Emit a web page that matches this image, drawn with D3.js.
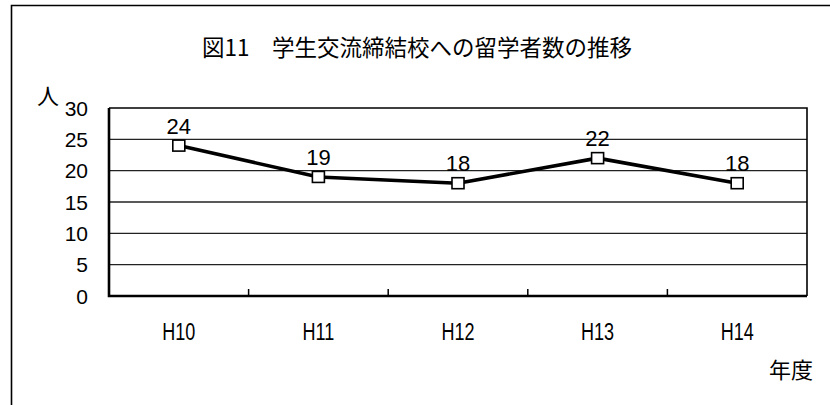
<!DOCTYPE html>
<html><head><meta charset="utf-8">
<script src="https://cdn.jsdelivr.net/npm/d3@7/dist/d3.min.js"></script>
<style>
html,body{margin:0;padding:0;background:#fff;}
svg{display:block;}
text{font-family:"Liberation Sans",Arial,sans-serif;fill:#000;}
.cjk{font-family:"Noto Sans CJK JP","Noto Sans CJK SC",sans-serif;}
</style></head>
<body>
<script>
const categories = ["H10","H11","H12","H13","H14"];
const values = [24,19,18,22,18];
const yTicks = [0,5,10,15,20,25,30];
const title = "図11　学生交流締結校への留学者数の推移";
const yUnit = "人";
const xUnit = "年度";

const W = 830, H = 405;
const svg = d3.select("body").append("svg").attr("width",W).attr("height",H);
svg.append("rect").attr("width",W).attr("height",H).attr("fill","#fff");

// outer frame (left & top visible)
svg.append("path").attr("d",`M11.5,${H+5} V5.5 H${W+5}`).attr("fill","none").attr("stroke","#000").attr("stroke-width",1.6);

const pl = 109, pr = 807, pt = 108, pb = 296;
const x = d3.scaleBand().domain(categories).range([pl,pr]).padding(0);
const y = d3.scaleLinear().domain([0,30]).range([pb,pt]);

// gridlines
svg.append("g").selectAll("line").data(yTicks.filter(d=>d>0 && d<30)).join("line")
  .attr("x1",pl).attr("x2",pr).attr("y1",d=>y(d)).attr("y2",d=>y(d))
  .attr("stroke","#222").attr("stroke-width",1.4);
// top & right frame of plot
svg.append("path").attr("d",`M${pl},${y(30)} H${pr} V${pb}`).attr("fill","none").attr("stroke","#000").attr("stroke-width",1.6);
// axes lines
svg.append("path").attr("d",`M${pl},${pt} V${pb} H${pr}`).attr("fill","none").attr("stroke","#000").attr("stroke-width",2.6);

// x ticks at band boundaries (inward)
const bounds = categories.slice(1).map(c=>x(c));
svg.append("g").selectAll("line").data(bounds).join("line")
  .attr("x1",d=>d).attr("x2",d=>d).attr("y1",pb).attr("y2",pb-7)
  .attr("stroke","#000").attr("stroke-width",1.5);

// y tick labels
svg.append("g").selectAll("text").data(yTicks).join("text")
  .attr("x",88).attr("y",d=>y(d)).attr("dy","0.36em").attr("text-anchor","end")
  .attr("font-size",21).text(d=>d);

// x category labels (tall, narrow style)
svg.append("g").selectAll("text").data(categories).join("text")
  .attr("transform",d=>`translate(${x(d)+x.bandwidth()/2},340) scale(0.95,1.25)`)
  .attr("text-anchor","middle").attr("font-size",19).text(d=>d);

// line
const line = d3.line().x((d,i)=>x(categories[i])+x.bandwidth()/2).y(d=>y(d));
svg.append("path").datum(values).attr("d",line).attr("fill","none")
  .attr("stroke","#000").attr("stroke-width",3.6).attr("stroke-linejoin","round");

// markers
const ms = 12;
svg.append("g").selectAll("rect").data(values).join("rect")
  .attr("x",(d,i)=>x(categories[i])+x.bandwidth()/2-ms/2)
  .attr("y",d=>y(d)-ms/2+0.5).attr("width",ms).attr("height",ms-1)
  .attr("fill","#fff").attr("stroke","#000").attr("stroke-width",1.6);

// data labels
svg.append("g").selectAll("text").data(values).join("text")
  .attr("x",(d,i)=>x(categories[i])+x.bandwidth()/2)
  .attr("y",d=>y(d)-12).attr("text-anchor","middle").attr("font-size",22).text(d=>d);

// title
svg.append("text").attr("class","cjk").attr("x",417).attr("y",56).attr("text-anchor","middle")
  .attr("font-size",22.5).text(title);
// units
svg.append("text").attr("class","cjk").attr("x",48).attr("y",104).attr("text-anchor","middle")
  .attr("font-size",22).text(yUnit);
svg.append("text").attr("class","cjk").attr("x",791).attr("y",378).attr("text-anchor","middle")
  .attr("font-size",22).text(xUnit);
</script>
</body></html>
